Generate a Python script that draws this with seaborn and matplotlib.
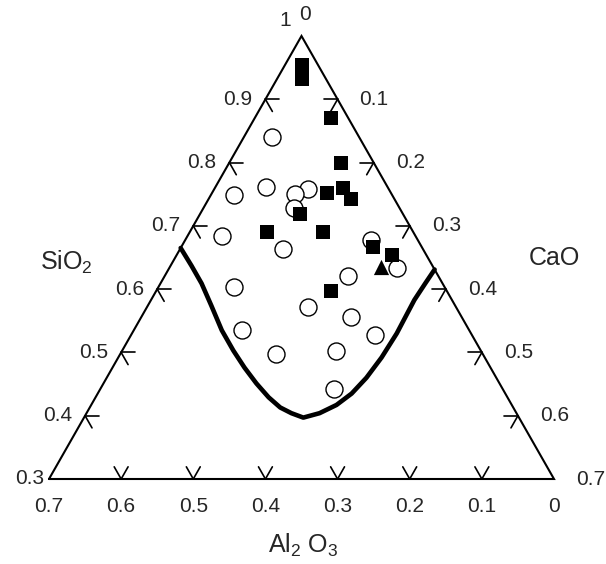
import numpy as np
import pandas as pd
import matplotlib
matplotlib.use("Agg")
import matplotlib.pyplot as plt
import seaborn as sns

# ---------------- data (mass fractions) ----------------
SPAN = 0.7  # the diagram shows SiO2 0.3..1, Al2O3 0..0.7, CaO 0..0.7

square_al2o3 = [0.023, 0.034, 0.023, 0.046, 0.089, 0.062, 0.061, 0.142, 0.203, 0.125, 0.067, 0.047, 0.160]
square_cao   = [0.023, 0.034, 0.106, 0.155, 0.159, 0.178, 0.197, 0.139, 0.107, 0.185, 0.266, 0.299, 0.243]

triangle_al2o3 = [0.072]
triangle_cao   = [0.293]

circle_al2o3 = [0.120, 0.220, 0.169, 0.111, 0.134, 0.146, 0.268, 0.194, 0.065, 0.051,
                0.125, 0.292, 0.205, 0.153, 0.315, 0.135, 0.287, 0.200, 0.233]
circle_cao   = [0.039, 0.032, 0.070, 0.130, 0.115, 0.125, 0.048, 0.143, 0.257, 0.315,
                0.255, 0.104, 0.224, 0.291, 0.149, 0.338, 0.215, 0.297, 0.324]

curve_al2o3 = [0.335, 0.334, 0.334, 0.338, 0.343, 0.343, 0.341, 0.337, 0.331, 0.323, 0.312,
               0.299, 0.273, 0.243, 0.213, 0.180, 0.143, 0.103, 0.052, 0.024, 0.000]
curve_cao   = [0.000, 0.029, 0.057, 0.088, 0.122, 0.154, 0.183, 0.212, 0.240, 0.264, 0.284,
               0.304, 0.323, 0.340, 0.352, 0.360, 0.365, 0.367, 0.365, 0.367, 0.369]

sio2_ticks  = [0.4, 0.5, 0.6, 0.7, 0.8, 0.9]
sio2_labels = ["0.3", "0.4", "0.5", "0.6", "0.7", "0.8", "0.9", "1"]
cao_ticks   = [0.1, 0.2, 0.3, 0.4, 0.5, 0.6]
cao_labels  = ["0", "0.1", "0.2", "0.3", "0.4", "0.5", "0.6", "0.7"]
al_ticks    = [0.6, 0.5, 0.4, 0.3, 0.2, 0.1]
al_labels   = ["0.7", "0.6", "0.5", "0.4", "0.3", "0.2", "0.1", "0"]


def tern(al2o3, cao):
    a = np.asarray(al2o3, dtype=float) / SPAN
    c = np.asarray(cao, dtype=float) / SPAN
    return 0.5 * (1 - a + c), 1 - a - c


# ---------------- figure ----------------
sns.set_theme(style="white")
plt.rcParams["font.family"] = ["Liberation Sans", "DejaVu Sans"]
plt.rcParams["mathtext.fontset"] = "custom"
plt.rcParams["mathtext.rm"] = "Liberation Sans"

W, H = 606, 564
fig = plt.figure(figsize=(W / 100, H / 100), dpi=100)
ax = fig.add_axes([49 / W, 1 - 479 / H, 505 / W, 443 / H])
ax.set_xlim(0, 1)
ax.set_ylim(0, 1)
ax.axis("off")

# outline
ox, oy = tern([SPAN, 0, 0, SPAN], [0, SPAN, 0, 0])
ax.plot(ox, oy, color="black", lw=1.5, solid_joinstyle="miter", clip_on=False)

# arrow-like ticks
Lh = 14 / 505
Ld = 14 / 510
def seg(x0, y0, dx, dy):
    ax.plot([x0, x0 + dx], [y0, y0 + dy], color="black", lw=1.2, clip_on=False)

for s in sio2_ticks:
    x0, y0 = tern(1 - s, 0)
    seg(x0, y0, Lh, 0)
    seg(x0, y0, 0.5 * Ld, -Ld)
for cv in cao_ticks:
    x0, y0 = tern(0, cv)
    seg(x0, y0, -Lh, 0)
    seg(x0, y0, -0.5 * Ld, -Ld)
for av in al_ticks:
    x0, y0 = tern(av, SPAN - av)
    seg(x0, y0, -0.5 * Ld, Ld)
    seg(x0, y0, 0.5 * Ld, Ld)

# boundary curve
cx, cy = tern(curve_al2o3, curve_cao)
sns.lineplot(x=cx, y=cy, sort=False, estimator=None, color="black", lw=3.3, ax=ax)

# points
px, py = tern(circle_al2o3, circle_cao)
sns.scatterplot(x=px, y=py, marker="o", s=150, color="white", edgecolor="black",
                linewidth=1.0, ax=ax, zorder=3)
px, py = tern(square_al2o3, square_cao)
sns.scatterplot(x=px, y=py, marker="s", s=95, color="black", edgecolor="black",
                linewidth=0, ax=ax, zorder=4)
px, py = tern(triangle_al2o3, triangle_cao)
sns.scatterplot(x=px, y=py, marker="^", s=120, color="black", edgecolor="black",
                linewidth=0, ax=ax, zorder=4)

FS = 15
K = 0.72  # px -> points

# SiO2 labels (left edge)
for i, lab in enumerate(sio2_labels):
    s = 0.3 + 0.1 * i
    x0, y0 = tern(1 - s, 0)
    if lab == "1":
        ax.annotate(lab, (x0, y0), xytext=(-16 * K, 16 * K), textcoords="offset points",
                    ha="center", va="center", fontsize=FS, annotation_clip=False)
    else:
        off = -5 if lab == "0.3" else -13
        ax.annotate(lab, (x0, y0), xytext=(off * K, 0), textcoords="offset points",
                    ha="right", va="center", fontsize=FS, annotation_clip=False)

# CaO labels (right edge)
for i, lab in enumerate(cao_labels):
    cv = 0.1 * i
    x0, y0 = tern(0, cv)
    if lab == "0":
        ax.annotate(lab, (x0, y0), xytext=(3 * K, 22 * K), textcoords="offset points",
                    ha="center", va="center", fontsize=FS, annotation_clip=False)
    else:
        ax.annotate(lab, (x0, y0), xytext=(22 * K, 0), textcoords="offset points",
                    ha="left", va="center", fontsize=FS, annotation_clip=False)

# Al2O3 labels (bottom edge)
for i, lab in enumerate(al_labels):
    av = 0.7 - 0.1 * i
    x0, y0 = tern(av, SPAN - av)
    ax.annotate(lab, (x0, y0), xytext=(0, -27 * K), textcoords="offset points",
                ha="center", va="center", fontsize=FS, annotation_clip=False)

# component names
TS = 18
fig.text(66 / W, 1 - 262 / H, r"SiO$_{\rm 2}$", ha="center", va="center", fontsize=TS)
fig.text(554 / W, 1 - 258 / H, "CaO", ha="center", va="center", fontsize=TS)
fig.text(303 / W, 1 - 545 / H, r"Al$_{\rm 2}$ O$_{\rm 3}$", ha="center", va="center", fontsize=TS)

fig.savefig("out.png", dpi=100, facecolor="white")
